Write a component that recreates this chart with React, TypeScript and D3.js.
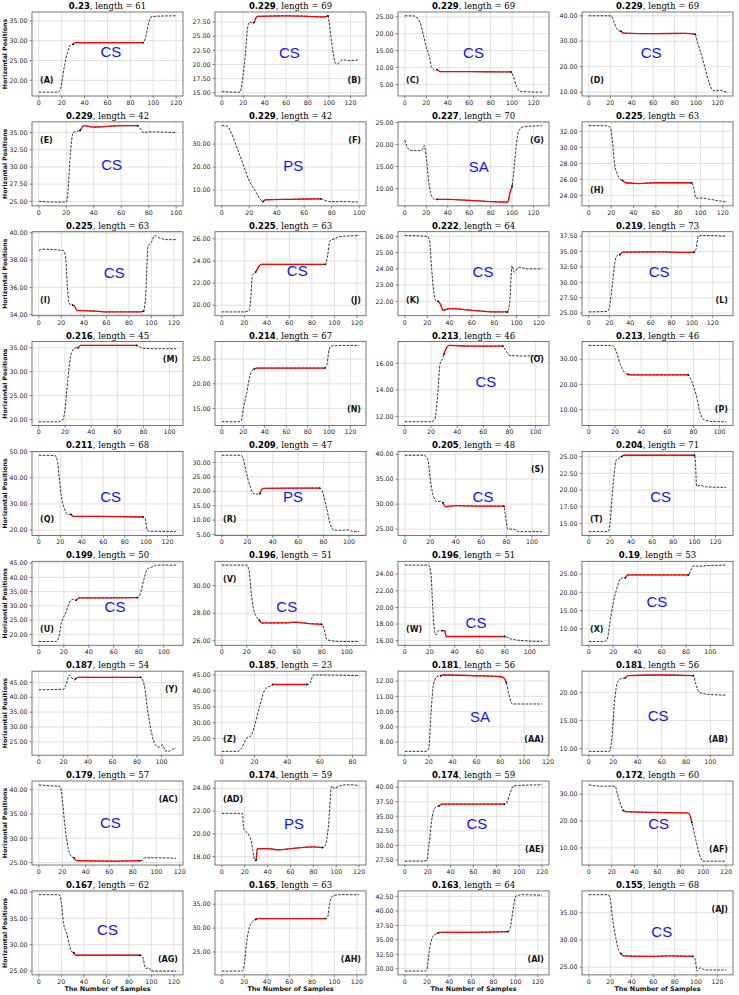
import * as d3 from 'd3';

type Pt = [number, number];

// panel titles: bold score + ", length = n"
const scores = [
  '0.23', '0.229', '0.229', '0.229',
  '0.229', '0.229', '0.227', '0.225',
  '0.225', '0.225', '0.222', '0.219',
  '0.216', '0.214', '0.213', '0.213',
  '0.211', '0.209', '0.205', '0.204',
  '0.199', '0.196', '0.196', '0.19',
  '0.187', '0.185', '0.181', '0.181',
  '0.179', '0.174', '0.174', '0.172',
  '0.167', '0.165', '0.163', '0.155',
];
const lengths = [
  61, 69, 69, 69, 42, 42, 70, 63, 63, 63, 64, 73, 45, 67, 46, 46, 68, 47,
  48, 71, 50, 51, 51, 53, 54, 23, 56, 56, 57, 59, 59, 60, 62, 63, 64, 68,
];
const letters = [
  'A', 'B', 'C', 'D', 'E', 'F', 'G', 'H', 'I', 'J', 'K', 'L',
  'M', 'N', 'O', 'P', 'Q', 'R', 'S', 'T', 'U', 'V', 'W', 'X',
  'Y', 'Z', 'AA', 'AB', 'AC', 'AD', 'AE', 'AF', 'AG', 'AH', 'AI', 'AJ',
];
const tags = [
  'CS', 'CS', 'CS', 'CS', 'CS', 'PS', 'SA', '',
  'CS', 'CS', 'CS', 'CS', '', '', 'CS', '',
  'CS', 'PS', 'CS', 'CS', 'CS', 'CS', 'CS', 'CS',
  '', '', 'SA', 'CS', 'CS', 'PS', 'CS', 'CS',
  'CS', '', '', 'CS',
];
// where the tag text sits, in data units
const tagAt: Pt[] = [
  [63, 27.2], [63, 22.1], [64, 14.5], [58, 25.7],
  [53, 30.4], [52, 20.5], [69, 15], [0, 0],
  [67, 37.1], [67, 23.1], [70, 23.8], [68, 31.7],
  [0, 0], [0, 0], [62, 14.6], [0, 0],
  [67, 32.8], [56, 18.2], [61.5, 31.6], [68, 19],
  [61, 29.9], [52, 28.5], [57, 18.2], [56, 17.4],
  [0, 0], [0, 0], [63, 9.7], [57, 15.9],
  [61, 33.3], [63, 20.9], [63, 33.8], [61, 19],
  [61, 32.8], [0, 0], [0, 0], [68, 31.5],
];
// corner of the (letter) label: t/b + l/r
const corners = [
  'bl', 'br', 'bl', 'bl', 'tl', 'tr', 'tr', 'bl',
  'bl', 'br', 'bl', 'br', 'tr', 'br', 'tr', 'br',
  'bl', 'bl', 'tr', 'bl', 'bl', 'tl', 'bl', 'bl',
  'tr', 'bl', 'br', 'br', 'tr', 'tl', 'br', 'br',
  'br', 'br', 'br', 'tr',
];
// matched part drawn in red, as [from, to] sample index
const redSpans: Pt[] = [
  [30, 91], [30, 99], [30, 99], [30, 99],
  [30, 72], [30, 72], [30, 100], [30, 92],
  [30, 93], [30, 92], [30, 92], [30, 102],
  [30, 75], [30, 96], [30, 75], [30, 76],
  [30, 97], [30, 77], [30, 78], [31, 100],
  [30, 79], [30, 80], [30, 80], [30, 82],
  [30, 83], [31, 52], [30, 85], [30, 86],
  [30, 86], [30, 88], [30, 87], [30, 90],
  [31, 90], [30, 92], [30, 93], [30, 97],
];
const yTicks: number[][] = [
  [20, 25, 30, 35], [15, 17.5, 20, 22.5, 25, 27.5], [5, 10, 15, 20, 25], [10, 20, 30, 40],
  [25, 27.5, 30, 32.5, 35], [10, 20, 30], [10, 15, 20, 25], [24, 26, 28, 30, 32],
  [34, 36, 38, 40], [20, 22, 24, 26], [22, 23, 24, 25, 26], [25, 27.5, 30, 32.5, 35, 37.5],
  [20, 25, 30, 35], [15, 20, 25], [12, 14, 16], [10, 20, 30],
  [20, 30, 40, 50], [5, 10, 15, 20, 25, 30], [25, 30, 35, 40], [15, 17.5, 20, 22.5, 25],
  [20, 25, 30, 35, 40, 45], [26, 28, 30], [16, 18, 20, 22, 24], [10, 15, 20, 25],
  [25, 30, 35, 40, 45], [25, 30, 35, 40, 45], [8, 9, 10, 11, 12], [10, 15, 20],
  [25, 30, 35, 40], [18, 20, 22, 24], [27.5, 30, 32.5, 35, 37.5, 40], [10, 20, 30],
  [25, 30, 35, 40], [25, 30, 35], [30, 32.5, 35, 37.5, 40, 42.5], [25, 30, 35],
];

// horizontal positions, keypoints [sample, value]
const seriesA: Pt[] = [[0, 17], [17, 17], [19, 18], [22, 23], [25, 27], [28, 29], [30, 29.1], [32, 29.5], [60, 29.5], [91, 29.5], [93, 30.5], [96, 34.5], [98, 36], [103, 36.2], [120, 36.3]];
const seriesB: Pt[] = [[0, 15.2], [17, 15.1], [19, 17], [22, 22], [24, 26.5], [26, 27.5], [29, 27.3], [30, 27.4], [33, 28.5], [60, 28.6], [80, 28.5], [95, 28.4], [99, 28.6], [100, 27.5], [103, 23], [106, 20.2], [108, 20.1], [112, 20.8], [120, 20.7], [128, 20.8]];
const seriesC: Pt[] = [[0, 25.3], [8, 25.3], [10, 25], [14, 23.5], [17, 20], [20, 16], [23, 13], [25, 10], [28, 9.2], [30, 9.4], [33, 8.8], [60, 8.8], [90, 8.7], [99, 8.7], [101, 7.5], [104, 4.5], [107, 3], [115, 2.8], [128, 2.7]];
const seriesD: Pt[] = [[0, 40], [21, 40], [23, 38], [26, 35], [28, 34], [30, 34], [32, 33.2], [60, 33], [90, 33.1], [99, 32.8], [101, 30], [104, 26], [108, 20], [112, 14], [115, 11], [118, 10.5], [122, 10.8], [125, 10.5], [128, 10]];
const seriesE: Pt[] = [[0, 25], [10, 24.9], [20, 24.9], [21, 26], [23, 32], [25, 35], [28, 35.2], [30, 35.3], [33, 36], [40, 35.8], [60, 36], [72, 36], [74, 35.5], [76, 35], [80, 35.1], [100, 35]];
const seriesF: Pt[] = [[0, 38], [4, 37.8], [6, 36], [10, 30], [15, 22], [20, 14], [25, 9], [28, 6], [30, 5], [32, 5.8], [50, 6], [72, 6.2], [75, 5.5], [78, 5], [85, 5], [100, 4.8]];
const seriesG: Pt[] = [[0, 21], [2, 19.5], [5, 18.7], [12, 18.6], [16, 18.8], [18, 19.8], [20, 17], [22, 12], [24, 9], [26, 7.8], [28, 7.5], [30, 7.5], [40, 7.5], [60, 7.3], [80, 7], [96, 6.9], [98, 9], [100, 10.5], [102, 15], [104, 20], [106, 23], [110, 24], [128, 24.3]];
const seriesH: Pt[] = [[0, 32.7], [15, 32.7], [19, 32.5], [21, 31], [23, 28], [26, 26.5], [28, 26], [30, 25.9], [33, 25.6], [45, 25.5], [60, 25.6], [92, 25.6], [94, 25], [96, 23.7], [100, 23.7], [110, 23.5], [123, 23.2]];
const seriesI: Pt[] = [[0, 38.7], [3, 38.8], [22, 38.7], [24, 38], [25, 36.5], [27, 34.8], [30, 34.7], [32, 34.6], [34, 34.3], [40, 34.3], [60, 34.2], [90, 34.2], [93, 34.25], [95, 35.5], [97, 39], [100, 39.3], [103, 39.8], [108, 39.6], [114, 39.5], [122, 39.5]];
const seriesJ: Pt[] = [[0, 19.4], [20, 19.4], [24, 19.5], [26, 21], [27, 22.7], [30, 23], [33, 23.5], [35, 23.7], [60, 23.7], [92, 23.7], [94, 24.5], [96, 25.8], [100, 26], [105, 26.2], [122, 26.3]];
const seriesK: Pt[] = [[0, 26.05], [20, 26], [22, 25.8], [24, 24], [26, 22.5], [28, 22], [30, 22], [32, 21.8], [34, 21.45], [40, 21.55], [60, 21.45], [80, 21.35], [92, 21.35], [94, 22], [96, 24.2], [98, 23.8], [102, 24.1], [110, 24], [123, 24]];
const seriesL: Pt[] = [[0, 25.2], [18, 25.3], [20, 26], [23, 30], [25, 33], [27, 34.3], [30, 34.5], [33, 34.9], [70, 34.95], [90, 34.85], [102, 34.9], [104, 35.5], [106, 37.5], [110, 37.6], [133, 37.5]];
const seriesM: Pt[] = [[0, 19.5], [15, 19.5], [18, 19.8], [20, 22], [22, 28], [25, 34], [28, 35], [30, 35], [32, 35.5], [50, 35.5], [75, 35.5], [77, 35.2], [80, 34.9], [90, 34.8], [105, 34.8]];
const seriesN: Pt[] = [[0, 12.3], [15, 12.3], [18, 12.5], [20, 15], [23, 18], [26, 21.5], [28, 22.7], [30, 23], [33, 23.2], [60, 23.2], [96, 23.2], [98, 24], [100, 27], [103, 27.7], [115, 27.8], [128, 27.8]];
const seriesO: Pt[] = [[0, 11.6], [20, 11.6], [23, 11.8], [25, 13.5], [27, 16], [29, 16.4], [30, 16.7], [32, 17.2], [34, 17.35], [50, 17.3], [75, 17.3], [77, 17], [80, 16.6], [90, 16.55], [105, 16.6]];
const seriesP: Pt[] = [[0, 35.5], [18, 35.5], [21, 33], [24, 28], [27, 25], [30, 24], [33, 23.8], [60, 23.8], [76, 23.8], [78, 22], [82, 16], [85, 9], [88, 6], [95, 5.3], [105, 5.2]];
const seriesQ: Pt[] = [[0, 48.6], [15, 48.5], [17, 47], [19, 40], [21, 33], [24, 28], [27, 26], [30, 26], [32, 25.2], [60, 25.2], [97, 25], [99, 24.5], [101, 20], [103, 19.5], [110, 19.5], [128, 19.4]];
const seriesR: Pt[] = [[0, 32.5], [15, 32.5], [17, 31], [19, 27], [22, 22], [25, 19.2], [28, 19], [30, 19.2], [31, 20.5], [33, 21], [60, 21.1], [77, 21.1], [79, 20], [82, 15], [85, 9], [88, 6.5], [95, 6.5], [100, 6.6], [103, 6], [108, 6]];
const seriesS: Pt[] = [[0, 39.8], [15, 39.8], [18, 39], [20, 35], [22, 32], [25, 30.5], [28, 30.6], [30, 30.3], [32, 29.5], [40, 29.7], [60, 29.6], [78, 29.6], [79, 28], [81, 25], [85, 25], [90, 24.5], [108, 24.5]];
const seriesT: Pt[] = [[0, 13.8], [18, 13.8], [20, 15], [22, 19], [24, 22.5], [26, 24.5], [29, 24.8], [31, 25], [33, 25.2], [60, 25.2], [100, 25.2], [101, 24], [102, 20.6], [106, 20.7], [110, 20.5], [130, 20.4]];
const seriesU: Pt[] = [[0, 17.5], [14, 17.5], [16, 19], [18, 24], [21, 27], [25, 31.5], [27, 32.3], [29, 32], [30, 32], [32, 32.8], [50, 32.8], [79, 32.9], [81, 34], [84, 39], [87, 43], [90, 43.5], [95, 44.3], [110, 44.3]];
const seriesV: Pt[] = [[0, 31.5], [20, 31.5], [22, 31], [23, 30], [25, 28.5], [28, 27.7], [30, 27.5], [32, 27.3], [50, 27.3], [58, 27.35], [70, 27.25], [80, 27.2], [82, 26.8], [84, 26.1], [88, 26], [95, 25.95], [110, 25.95]];
const seriesW: Pt[] = [[0, 25.1], [19, 25.1], [21, 24], [22, 21], [24, 17], [25, 16.7], [27, 17.2], [30, 17.2], [32, 17.2], [33, 16.5], [50, 16.5], [80, 16.5], [82, 16.4], [85, 16.2], [95, 16], [110, 15.9]];
const seriesX: Pt[] = [[0, 6.5], [12, 6.5], [15, 7], [17, 11], [20, 17], [23, 21], [26, 23.8], [28, 24], [30, 24], [32, 24.8], [60, 24.8], [82, 24.8], [84, 26], [86, 27.3], [90, 27.2], [100, 27.4], [113, 27.5]];
const seriesY: Pt[] = [[0, 42.5], [20, 42.7], [22, 44], [25, 47.5], [27, 46.5], [29, 45.8], [30, 46.2], [32, 46.7], [60, 46.7], [83, 46.7], [86, 44], [89, 35], [92, 28], [95, 24], [98, 23.2], [101, 24], [103, 22], [106, 21.8], [109, 22.5], [112, 22.8]];
const seriesZ: Pt[] = [[0, 21], [10, 21], [12, 22], [15, 25], [18, 26], [20, 29], [23, 35], [26, 40], [28, 41.2], [30, 41.5], [31, 42], [52, 42], [54, 42.5], [56, 45], [60, 45], [84, 44.8]];
const seriesAA: Pt[] = [[0, 7.4], [18, 7.4], [20, 7.6], [22, 10], [24, 11.8], [27, 12.3], [30, 12.35], [32, 12.4], [60, 12.35], [80, 12.3], [83, 12.2], [85, 11.9], [87, 11.2], [90, 10.5], [100, 10.5], [115, 10.5]];
const seriesAB: Pt[] = [[0, 9.5], [17, 9.5], [19, 12], [21, 18], [24, 22], [27, 22.5], [30, 22.6], [32, 23], [60, 23.1], [86, 23], [88, 21.5], [91, 20], [96, 19.7], [113, 19.5]];
const seriesAC: Pt[] = [[0, 41], [10, 40.8], [18, 40.7], [20, 38], [22, 33], [25, 28], [28, 26.2], [30, 26], [32, 25.4], [60, 25.3], [86, 25.4], [88, 25.4], [90, 26], [100, 26], [117, 25.9]];
const seriesAD: Pt[] = [[0, 21.8], [18, 21.8], [19, 20.5], [21, 20.2], [23, 20], [26, 19.2], [28, 18], [29, 17.6], [30, 17.7], [31, 18.7], [40, 18.7], [50, 18.6], [60, 18.7], [80, 18.85], [88, 18.8], [90, 18.9], [93, 20.5], [96, 24.2], [98, 24], [103, 24.2], [108, 24.3], [115, 24.3], [120, 24.2]];
const seriesAE: Pt[] = [[0, 27.3], [15, 27.3], [19, 27.4], [21, 30], [24, 35], [27, 36.6], [30, 36.8], [32, 37.1], [60, 37.1], [87, 37.1], [89, 37.3], [92, 39], [95, 40.2], [100, 40.3], [120, 40.4]];
const seriesAF: Pt[] = [[0, 33.5], [10, 33], [23, 33], [25, 30], [28, 26], [30, 24], [32, 23.5], [60, 23.2], [86, 23], [88, 22.5], [90, 19.5], [94, 12], [98, 6], [100, 5], [110, 5], [120, 5]];
const seriesAG: Pt[] = [[0, 39.5], [18, 39.5], [20, 38], [22, 34], [25, 32], [27, 30], [29, 28.7], [31, 28.5], [33, 28], [60, 28], [90, 28], [92, 27.8], [95, 25.5], [98, 25.6], [100, 25], [110, 25], [122, 25]];
const seriesAH: Pt[] = [[0, 21], [18, 21], [20, 22.5], [22, 27], [25, 30.5], [28, 31.5], [30, 31.8], [32, 32], [60, 32], [92, 32], [94, 32.3], [96, 35.5], [99, 36.8], [105, 37], [122, 37]];
const seriesAI: Pt[] = [[0, 29.6], [18, 29.6], [20, 30], [22, 33], [25, 35.5], [28, 36], [30, 36.2], [32, 36.3], [60, 36.3], [93, 36.4], [95, 37], [98, 40.5], [100, 42.5], [105, 42.8], [124, 42.7]];
const seriesAJ: Pt[] = [[0, 38.3], [18, 38.3], [20, 37.5], [22, 34], [25, 30.5], [28, 28], [30, 27.5], [32, 27.1], [60, 27], [75, 27.1], [97, 27], [99, 26.5], [101, 24.3], [104, 24.9], [108, 24.5], [128, 24.5]];

const series = [
  seriesA, seriesB, seriesC, seriesD, seriesE, seriesF, seriesG, seriesH,
  seriesI, seriesJ, seriesK, seriesL, seriesM, seriesN, seriesO, seriesP,
  seriesQ, seriesR, seriesS, seriesT, seriesU, seriesV, seriesW, seriesX,
  seriesY, seriesZ, seriesAA, seriesAB, seriesAC, seriesAD, seriesAE, seriesAF,
  seriesAG, seriesAH, seriesAI, seriesAJ,
];

const W = 739;
const H = 995;
const colX = [32, 215, 398, 582];
const plotW = 151;
const plotH = 84;
const rowY = (r: number) => 12 + r * 109.86;
const fmt = d3.format('.2f');
const sans = 'DejaVu Sans';

function Panel({ i }: { i: number }) {
  const pts = series[i];
  const row = Math.floor(i / 4);
  const col = i % 4;
  const left = colX[col];
  const top = rowY(row);

  const [x0, x1] = d3.extent(pts, (d) => d[0]) as [number, number];
  const [y0, y1] = d3.extent(pts, (d) => d[1]) as [number, number];
  const padX = (x1 - x0) * 0.05;
  const padY = (y1 - y0) * 0.05;
  const x = d3.scaleLinear().domain([x0 - padX, x1 + padX]).range([0, plotW]);
  const y = d3.scaleLinear().domain([y0 - padY, y1 + padY]).range([plotH, 0]);
  const xt = d3.range(0, x1 + padX, 20);
  const yt = yTicks[i].filter((v) => v >= y0 - padY && v <= y1 + padY);

  const line = d3
    .line<Pt>()
    .x((d) => x(d[0]))
    .y((d) => y(d[1]))
    .curve(d3.curveMonotoneX);

  const [rs, re] = redSpans[i];
  const red = pts.filter((d) => d[0] >= rs && d[0] <= re);
  const ends = [red[0], red[red.length - 1]];

  const corner = corners[i];
  const lx = corner[1] === 'l' ? 8 : plotW - 5;
  const ly = corner[0] === 't' ? 18 : plotH - 16;

  return (
    <g transform={`translate(${left},${top})`}>
      {xt.map((v) => (
        <line key={'gx' + v} x1={x(v)} x2={x(v)} y1={0} y2={plotH} stroke="#d4d4d4" strokeWidth={0.7} />
      ))}
      {yt.map((v) => (
        <line key={'gy' + v} x1={0} x2={plotW} y1={y(v)} y2={y(v)} stroke="#d4d4d4" strokeWidth={0.7} />
      ))}
      <path d={line(pts) ?? ''} fill="none" stroke="#000" strokeWidth={0.8} strokeDasharray="2.6,1.3" />
      <path d={line(red) ?? ''} fill="none" stroke="#ff0000" strokeWidth={1.3} />
      {ends.map((d, k) => (
        <circle key={k} cx={x(d[0])} cy={y(d[1])} r={0.9} fill="#000" />
      ))}
      <rect x={0} y={0} width={plotW} height={plotH} fill="none" stroke="#555" strokeWidth={0.8} />
      {xt.map((v) => (
        <g key={'tx' + v} transform={`translate(${x(v)},${plotH})`}>
          <line y2={2.5} stroke="#555" strokeWidth={0.7} />
          <text y={8.8} textAnchor="middle" fontFamily={sans} fontSize={6.3} fill="#222">
            {v}
          </text>
        </g>
      ))}
      {yt.map((v) => (
        <g key={'ty' + v} transform={`translate(0,${y(v)})`}>
          <line x2={-2.5} stroke="#555" strokeWidth={0.7} />
          <text x={-4.5} dy="0.35em" textAnchor="end" fontFamily={sans} fontSize={6.3} fill="#222">
            {fmt(v)}
          </text>
        </g>
      ))}
      <text x={plotW / 2} y={-3} textAnchor="middle" fontSize={8.5} fill="#000">
        <tspan fontFamily={sans} fontWeight="bold">{scores[i]}</tspan>
        <tspan fontFamily="DejaVu Serif">{`, length = ${lengths[i]}`}</tspan>
      </text>
      <text
        x={lx}
        y={ly}
        dy="0.35em"
        textAnchor={corner[1] === 'l' ? 'start' : 'end'}
        fontFamily={sans}
        fontWeight="bold"
        fontSize={8}
        fill="#111"
      >
        {`(${letters[i]})`}
      </text>
      {tags[i] && (
        <text
          x={x(tagAt[i][0])}
          y={y(tagAt[i][1])}
          dy="0.36em"
          textAnchor="middle"
          fontFamily="Liberation Sans"
          fontSize={15}
          fill="#1010ff"
        >
          {tags[i]}
        </text>
      )}
      {col === 0 && (
        <text
          transform={`translate(${5 - left},${plotH / 2}) rotate(-90)`}
          dy="0.35em"
          textAnchor="middle"
          fontFamily={sans}
          fontWeight="bold"
          fontSize={6.2}
          fill="#111"
        >
          Horizontal Positions
        </text>
      )}
      {row === 8 && (
        <text x={plotW / 2} y={plotH + 16} textAnchor="middle" fontFamily={sans} fontWeight="bold" fontSize={6.4} fill="#111">
          The Number of Samples
        </text>
      )}
    </g>
  );
}

export default function App() {
  return (
    <svg
      width={W}
      height={H}
      viewBox={`0 0 ${W} ${H}`}
      style={{ position: 'absolute', left: 0, top: 0, background: '#fff' }}
    >
      <rect width={W} height={H} fill="#fff" />
      {series.map((_, i) => (
        <Panel key={i} i={i} />
      ))}
    </svg>
  );
}
